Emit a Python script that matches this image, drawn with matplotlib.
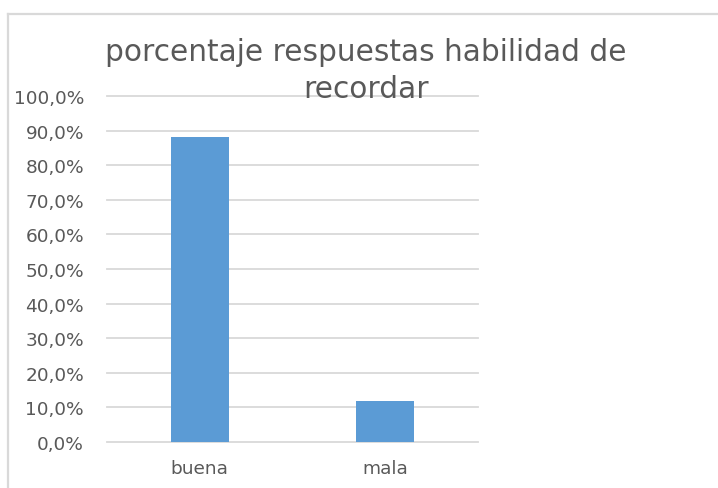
import numpy as np
import matplotlib
matplotlib.use('Agg')
import matplotlib.pyplot as plt
from matplotlib.lines import Line2D
from matplotlib.ticker import FuncFormatter

# datos del grafico
categorias = ['buena', 'mala']
porcentajes = [0.882, 0.118]
titulo = 'porcentaje respuestas habilidad de\nrecordar'

W, H = 718, 489
fig = plt.figure(figsize=(W / 100, H / 100), dpi=100)
fig.patch.set_facecolor('white')

# borde del area del grafico (gris claro)
borde = '#d9d9d9'
fig.add_artist(Line2D([8 / W, 8 / W], [0, 1 - 15 / H], transform=fig.transFigure, color=borde, lw=1.6))
fig.add_artist(Line2D([8 / W, 1], [1 - 15 / H, 1 - 15 / H], transform=fig.transFigure, color=borde, lw=1.6))

ax = fig.add_axes([107 / W, 1 - 443 / H, (478 - 107) / W, (443 - 97) / H])
x = np.arange(len(categorias))
ax.bar(x, porcentajes, width=0.313, color='#5b9bd5', zorder=3)

ax.set_xlim(-0.5, len(categorias) - 0.5)
ax.set_ylim(0, 1)
ax.set_yticks(np.arange(0, 1.01, 0.1))
ax.yaxis.set_major_formatter(FuncFormatter(lambda v, p: ('%.1f%%' % (v * 100)).replace('.', ',')))
ax.set_xticks(x)
ax.set_xticklabels(categorias)
ax.grid(axis='y', color=borde, lw=1.3, zorder=0)
for g in ax.get_ygridlines():
    g.set_clip_on(False)
for s in ax.spines.values():
    s.set_visible(False)
ax.tick_params(axis='both', length=0, labelsize=13.3, colors='#595959')
ax.tick_params(axis='y', pad=16.5)
ax.tick_params(axis='x', pad=12)

fig.text(366 / W, 1 - 71 / H, titulo, ha='center', va='center', fontsize=21.3,
         color='#595959', linespacing=1.36)

fig.savefig('out.png', dpi=100)
